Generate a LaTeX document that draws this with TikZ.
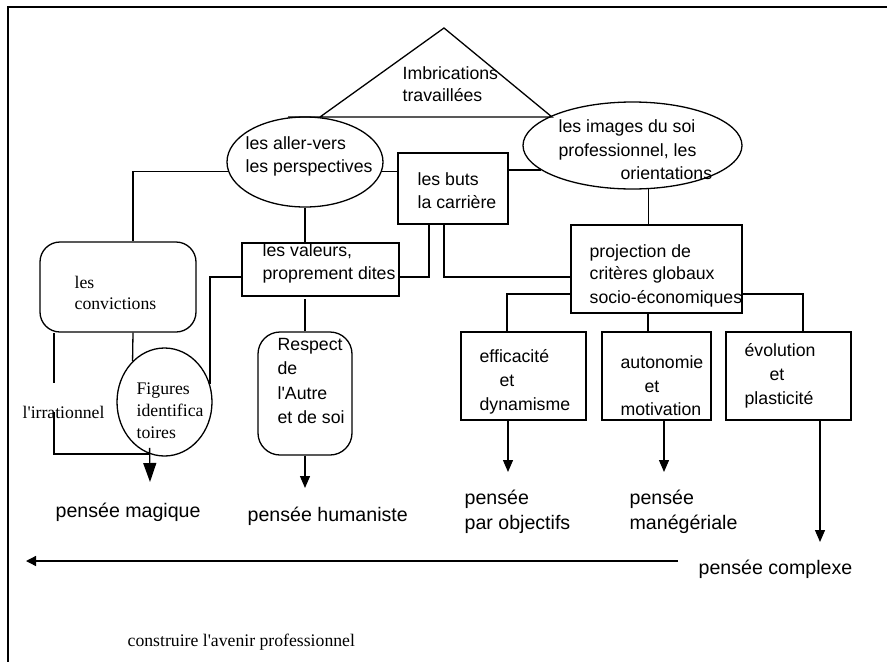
\documentclass[tikz,border=0pt]{standalone}
\usepackage{fontspec}
\newfontfamily\timesf{Liberation Serif}
\newfontfamily\arialf{Liberation Sans}
\usetikzlibrary{arrows.meta,shapes.geometric}
\begin{document}
\begin{tikzpicture}[x=1pt,y=-1pt,line width=1.3pt,
  shp/.style={draw,inner sep=0pt},
  tx/.style={font=\arialf\fontsize{17.7}{21}\selectfont,anchor=base west,inner sep=0pt},
  tl/.style={font=\arialf\fontsize{19.6}{23}\selectfont,anchor=base west,inner sep=0pt},
  ts/.style={font=\timesf\fontsize{17.7}{21}\selectfont,anchor=base west,inner sep=0pt},
  arr/.style={-{Triangle[length=12pt,width=10pt]}},
  bigarr/.style={-{Triangle[length=19pt,width=13pt]}},
  larr/.style={-{Triangle[length=10pt,width=10pt]}}]
\useasboundingbox (0,0) rectangle (887,662);
% frame
\draw (887,7) -- (8,7) -- (8,662);
% triangle
\draw (288,117) -- (552,117) -- (444,28) -- (320,117);
\node[tx] (t1) at (402,79) {Imbrications};
\node[tx] (t2) at (402,101) {travaillées};
% shapes
\node[shp,ellipse,minimum width=156pt,minimum height=90pt] (e1) at (305,162) {};
\node[shp,rectangle,minimum width=110pt,minimum height=71pt] (buts) at (453,188.5) {};
\node[shp,ellipse,minimum width=219pt,minimum height=87pt] (e2) at (632.5,145.5) {};
\node[shp,rectangle,minimum width=171pt,minimum height=88pt] (proj) at (656.5,269) {};
\node[shp,rectangle,minimum width=157pt,minimum height=53pt] (val) at (320.5,269.5) {};
\node[shp,rectangle,rounded corners=20pt,minimum width=156pt,minimum height=90pt] (conv) at (118,287) {};
\node[shp,rectangle,rounded corners=22pt,minimum width=94pt,minimum height=123pt] (resp) at (305,393.5) {};
\node[shp,ellipse,minimum width=95pt,minimum height=108pt] (fig) at (164.5,402) {};
\node[shp,rectangle,minimum width=125pt,minimum height=88pt] (eff) at (523.5,376) {};
\node[shp,rectangle,minimum width=109pt,minimum height=88pt] (auto) at (656.5,376) {};
\node[shp,rectangle,minimum width=125pt,minimum height=88pt] (evo) at (788.5,376) {};
% texts in shapes
\node[tx] (t3) at (245,149) {les aller-vers};
\node[tx] (t4) at (245,172) {les perspectives};
\node[tx] (t5) at (417,185) {les buts};
\node[tx] (t6) at (417,208) {la carrière};
\node[tx] (t7) at (558,132) {les images du soi};
\node[tx] (t8) at (558,156) {professionnel, les};
\node[tx] (t9) at (620,179) {orientations};
\node[tx] (t10) at (589,257) {projection de};
\node[tx] (t11) at (589,279) {critères globaux};
\node[tx] (t12) at (589,303) {socio-économiques};
\node[tx] (t13) at (262,256) {les valeurs,};
\node[tx] (t14) at (262,279) {proprement dites};
\node[tx] (t15) at (277,350) {Respect};
\node[tx] (t16) at (277,374) {de};
\node[tx] (t17) at (277,399) {l'Autre};
\node[tx] (t18) at (277,423) {et de soi};
\node[tx] (t19) at (479,362) {efficacité};
\node[tx] (t20) at (499,386) {et};
\node[tx] (t21) at (479,410) {dynamisme};
\node[tx] (t22) at (620,368) {autonomie};
\node[tx] (t23) at (644,392) {et};
\node[tx] (t24) at (620,415) {motivation};
\node[tx] (t25) at (744,356) {évolution};
\node[tx] (t26) at (769,380) {et};
\node[tx] (t27) at (744,404) {plasticité};
\node[ts] (t28) at (74,288) {les};
\node[ts] (t29) at (74,309) {convictions};
\node[ts] (t30) at (136,394) {Figures};
\node[ts] (t31) at (136,416) {identifica};
\node[ts] (t32) at (136,438) {toires};
\node[ts] (irr) at (22,418) {l'irrationnel};
\node[ts] (cons) at (127,646) {construire l'avenir professionnel};
% outcome labels
\node[tl] (mag) at (55,517) {pensée magique};
\node[tl] (hum) at (247,521) {pensée humaniste};
\node[tl] (obj1) at (464,504) {pensée};
\node[tl] (obj2) at (464,529) {par objectifs};
\node[tl] (man1) at (629,504) {pensée};
\node[tl] (man2) at (629,529) {manégériale};
\node[tl] (cplx) at (698,574) {pensée complexe};
% coordinates for free ends
\coordinate (irrA) at (54,383);
\coordinate (irrB) at (54,412);
\coordinate (jm) at (150,454);
\coordinate (magA) at (150,482);
\coordinate (humA) at (305,488);
\coordinate (objA) at (508,472);
\coordinate (manA) at (664,472);
\coordinate (cpxA) at (820,542);
\coordinate (hs) at (678,561);
\coordinate (he) at (26,561);
% connectors
\draw (e1.353) -- (e1.353 -| buts.west);
\draw (buts.east |- e2.195) -- (e2.195);
\draw (e2.290) -- (e2.290 |- proj.north);
\draw (e1.south) -- (e1.south |- val.north);
\draw (e1.187) -| ([xshift=15pt]conv.north);
\draw ([yshift=-7.5pt]val.east) -| ([xshift=-24pt]buts.south);
\draw ([xshift=-9pt]buts.south) |- ([yshift=-8pt]proj.west);
\draw ([yshift=-7.5pt]val.west) -| (fig.21);
\draw (resp.north) -- ++(0,-32);
\draw ([xshift=15pt]conv.south) -- (fig.128);
\draw ([xshift=-64pt]conv.south) -- (irrA);
\draw (irrB) |- (jm);
\draw[bigarr] ([yshift=6pt]fig.254) -- (magA);
\draw[arr] (resp.south) -- (humA);
\draw ([yshift=-25pt]proj.west) -| ([xshift=-16.5pt]eff.north);
\draw ([yshift=-25pt]proj.east) -| ([xshift=14.5pt]evo.north);
\draw ([xshift=-8.5pt]proj.south) -- ([xshift=-8.5pt]auto.north);
\draw[arr] ([xshift=-15.5pt]eff.south) -- (objA);
\draw[arr] ([xshift=7.5pt]auto.south) -- (manA);
\draw[arr] ([xshift=31.5pt]evo.south) -- (cpxA);
\draw[larr] (hs) -- (he);
\end{tikzpicture}
\end{document}
